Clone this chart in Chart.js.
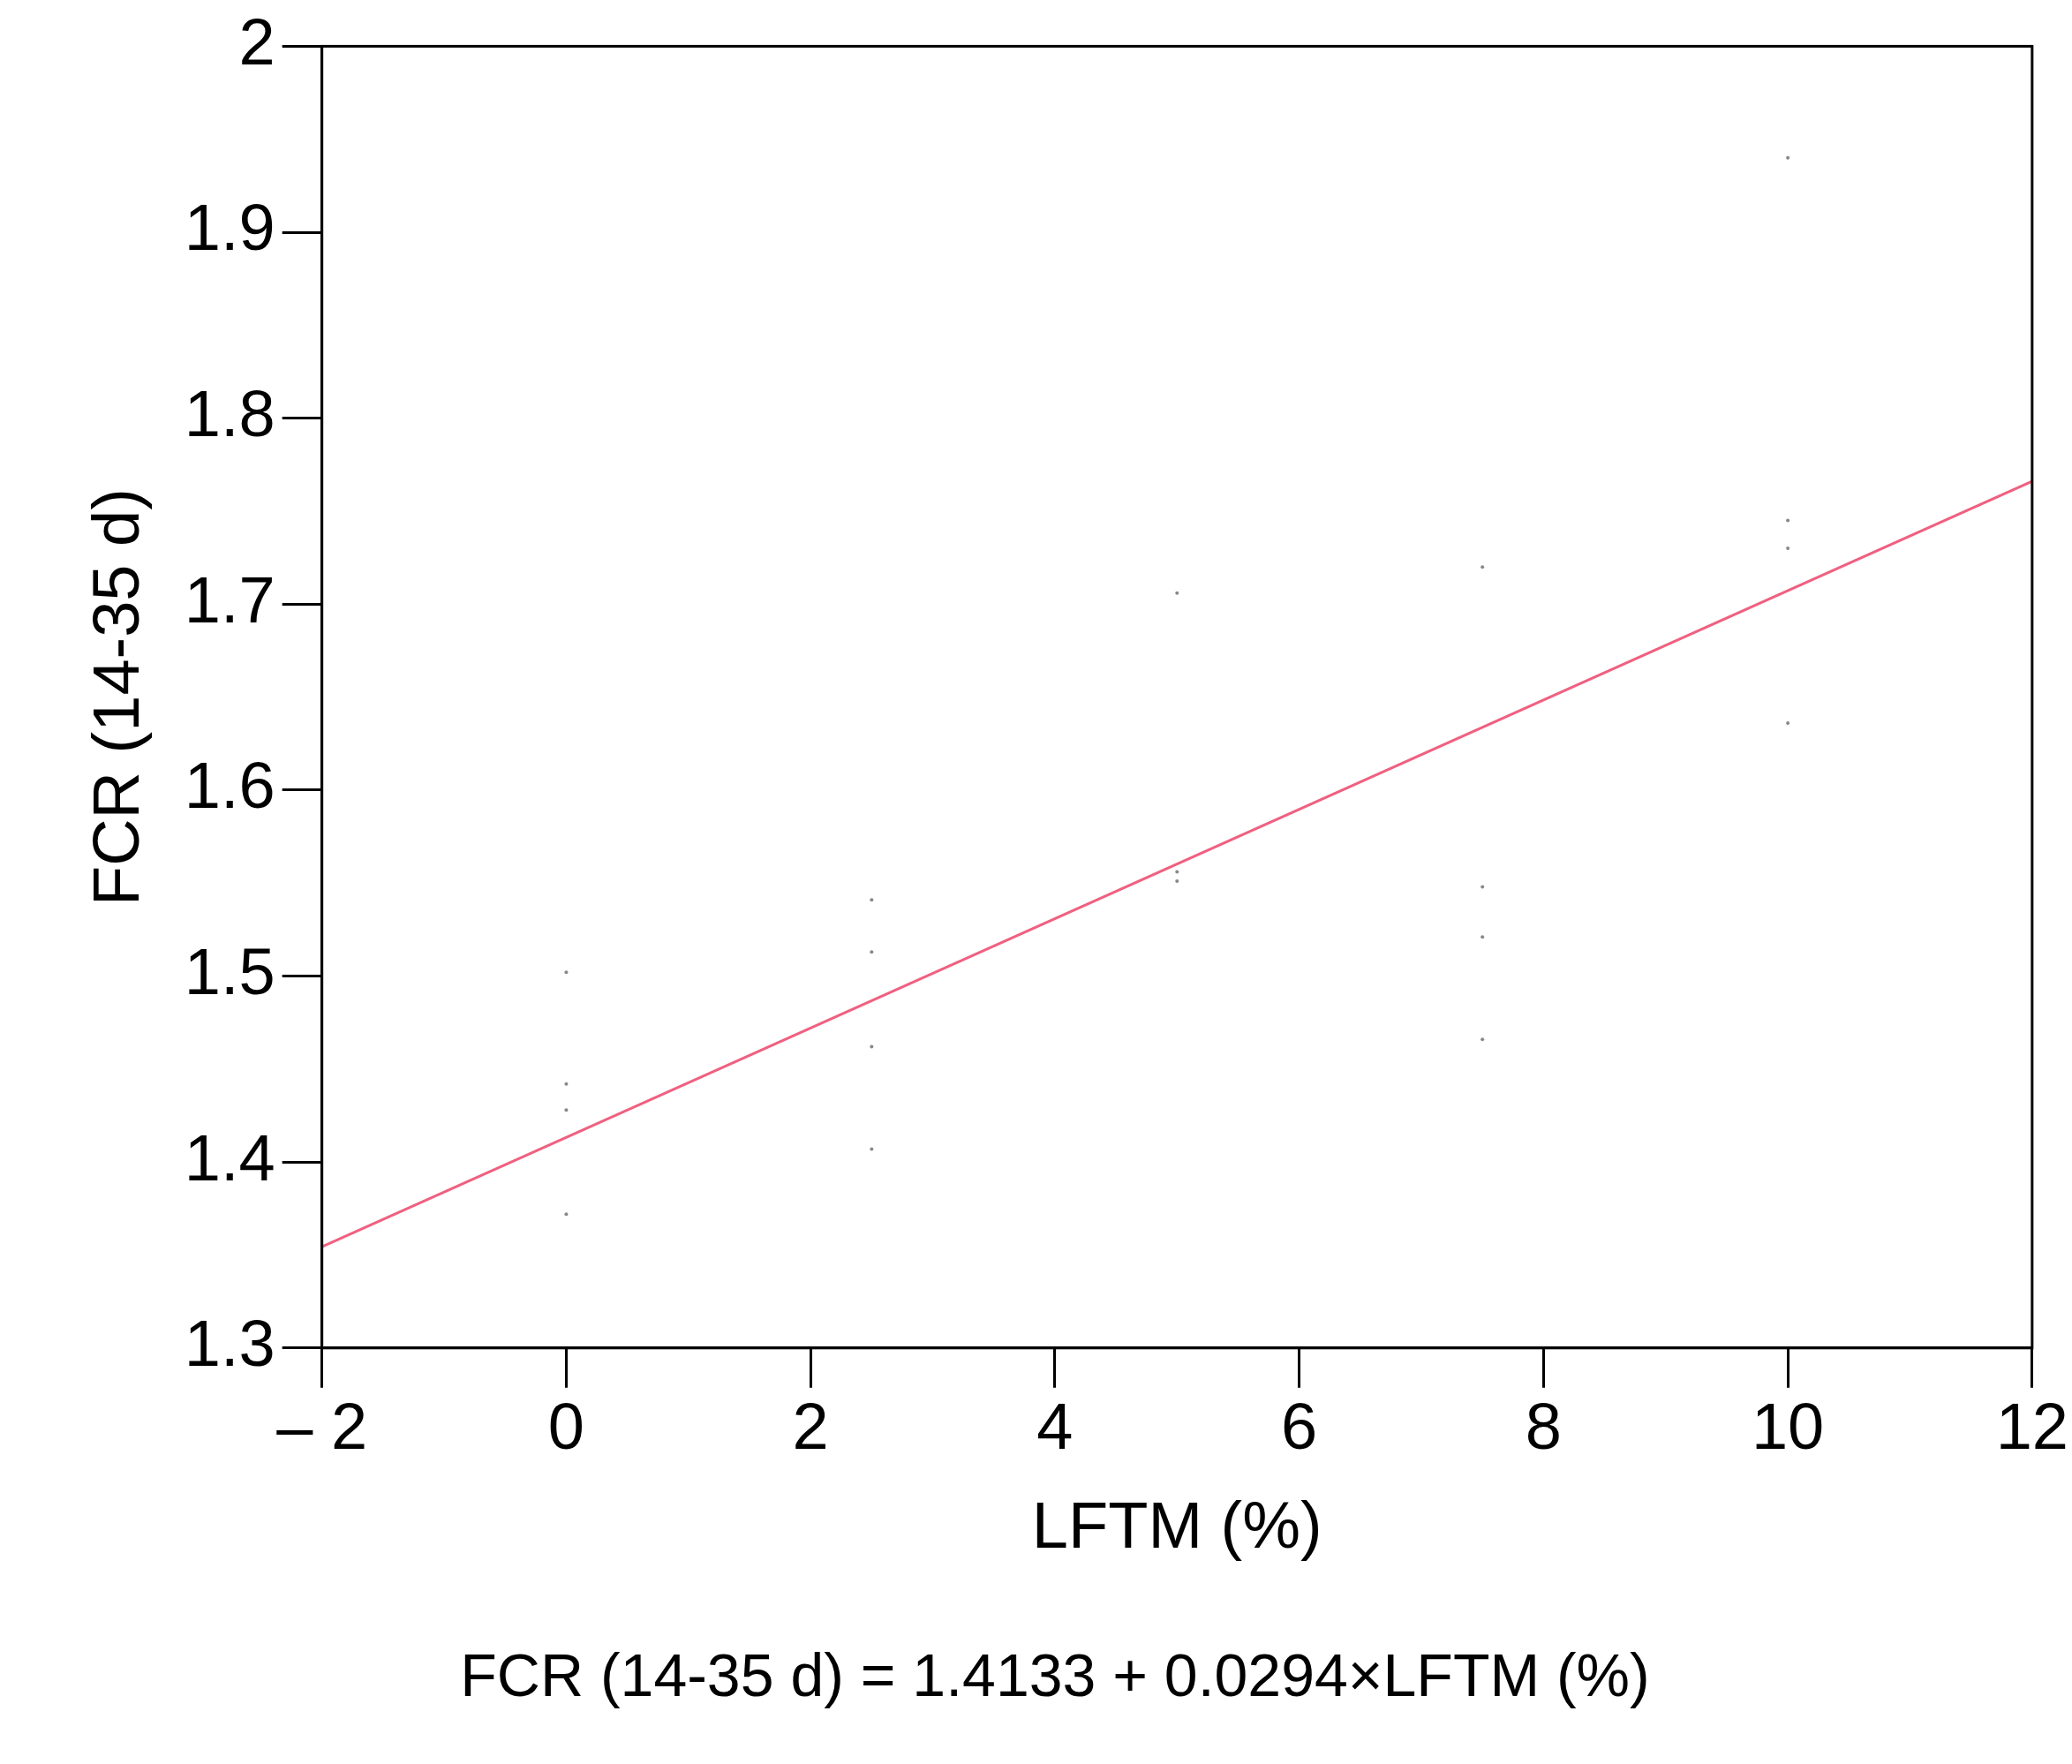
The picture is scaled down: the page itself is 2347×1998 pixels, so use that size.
<!DOCTYPE html>
<html><head><meta charset="utf-8">
<script src="https://cdn.jsdelivr.net/npm/chart.js@4/dist/chart.umd.min.js"></script>
<style>html,body{margin:0;padding:0;background:#fff}#w{width:2347px;height:1998px}</style>
</head><body><div id="w"><canvas id="c"></canvas></div>
<script>
const xLevels = [0,0,0,0, 2.5,2.5,2.5,2.5, 5,5,5, 7.5,7.5,7.5,7.5, 10,10,10,10];
const fcrValues = [1.502,1.442,1.428,1.372, 1.541,1.513,1.462,1.407, 1.706,1.556,1.551, 1.720,1.548,1.521,1.466, 1.940,1.745,1.730,1.636];
const fitX = [-2, 12];
const intercept = 1.4133, slope = 0.0294;
const equation = 'FCR (14-35 d) = 1.4133 + 0.0294×LFTM (%)';
const font = 'Liberation Sans, Arial, sans-serif';
const boxPlugin = {id:'box', afterDraw(ch){const a=ch.chartArea,c=ch.ctx;c.save();c.strokeStyle='#000';c.lineWidth=3;c.strokeRect(a.left,a.top,a.right-a.left,a.bottom-a.top);c.restore();}};
new Chart(document.getElementById('c'), {
  type:'scatter',
  data:{datasets:[
    {data:xLevels.map((x,i)=>({x,y:fcrValues[i]})), pointRadius:2, pointBackgroundColor:'#888', pointBorderWidth:0},
    {type:'line', data:fitX.map(x=>({x,y:intercept+slope*x})), borderColor:'#f06080', borderWidth:3, pointRadius:0}
  ]},
  options:{responsive:true, maintainAspectRatio:false, animation:false,
    layout:{padding:{top:50,right:45,left:88,bottom:55}},
    plugins:{legend:{display:false}, tooltip:{enabled:false},
      title:{display:true, position:'bottom', text:equation, color:'#000', font:{family:font,size:68,weight:'normal'}, padding:{top:80,bottom:0}}},
    scales:{
      x:{type:'linear', min:-2, max:12, ticks:{stepSize:2, color:'#000', font:{family:font,size:74}, padding:4, callback:v=>v<0?'– '+Math.abs(v):v},
         grid:{drawOnChartArea:false, tickLength:45, color:'#000', lineWidth:3}, border:{color:'#000',width:3},
         title:{display:true, text:'LFTM (%)', color:'#000', font:{family:font,size:74}, padding:{top:20}}},
      y:{min:1.3, max:2, ticks:{stepSize:0.1, color:'#000', font:{family:font,size:74}, padding:8, callback:v=>Math.round(v*10)/10},
         grid:{drawOnChartArea:false, tickLength:45, color:'#000', lineWidth:3}, border:{color:'#000',width:3},
         title:{display:true, text:'FCR (14-35 d)', color:'#000', font:{family:font,size:74}, padding:{bottom:20}}}
    }},
  plugins:[boxPlugin]
});
</script></body></html>
